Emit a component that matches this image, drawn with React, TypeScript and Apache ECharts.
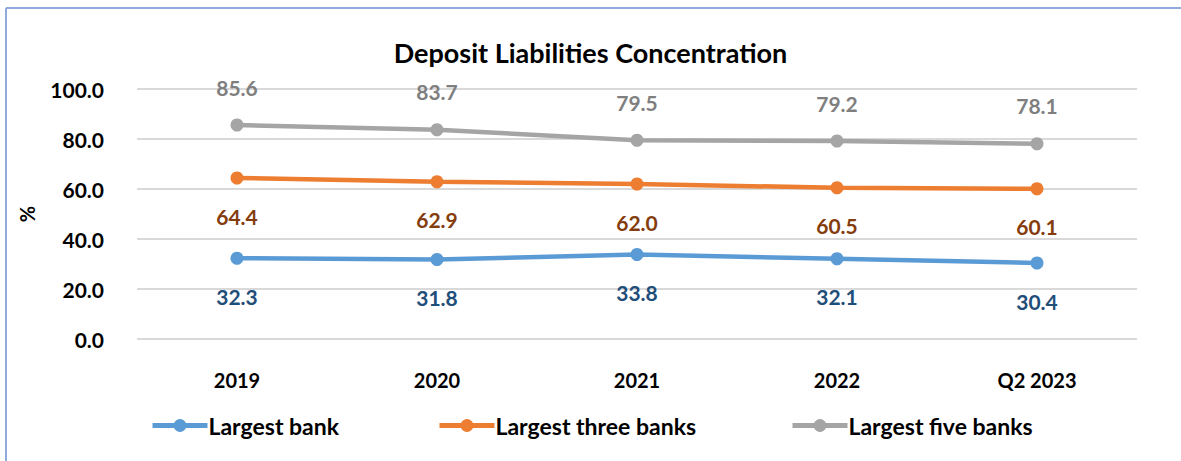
import React, { useEffect, useRef } from "react";
import * as echarts from "echarts";

const categories = ["2019", "2020", "2021", "2022", "Q2 2023"];
const largestBank = [32.3, 31.8, 33.8, 32.1, 30.4];
const largestThree = [64.4, 62.9, 62.0, 60.5, 60.1];
const largestFive = [85.6, 83.7, 79.5, 79.2, 78.1];
const seriesNames = ["Largest bank", "Largest three banks", "Largest five banks"];

const FONT = "Lato, 'Open Sans', sans-serif";

export default function App() {
  const ref = useRef<HTMLDivElement>(null);
  useEffect(() => {
    if (!ref.current) return;
    const chart = echarts.init(ref.current, null, { renderer: "svg" });
    const mkSeries = (name: string, data: number[], color: string, labelColor: string, pos: string) => ({
      name,
      type: "line",
      data,
      symbol: "circle",
      symbolSize: 13,
      lineStyle: { width: 4.5, color },
      itemStyle: { color },
      label: {
        show: true,
        position: pos,
        distance: 21,
        color: labelColor,
        fontSize: 21,
        fontWeight: "bold",
        fontFamily: FONT,
        formatter: (p: any) => p.value.toFixed(1),
      },
    });
    const legendCommon = {
      top: 414,
      padding: 0,
      itemWidth: 55,
      itemHeight: 16,
      itemGap: 4,
      lineStyle: { width: 5 },
      textStyle: { fontSize: 23, fontWeight: "bold", color: "#000", fontFamily: FONT, padding: [0, 0, 0, -4] },
    };
    chart.setOption({
      animation: false,
      backgroundColor: "#fff",
      textStyle: { fontFamily: FONT },
      title: {
        text: "Deposit Liabilities Concentration",
        left: "center",
        top: 34,
        textStyle: { fontSize: 27, fontWeight: "bold", color: "#000", fontFamily: FONT },
      },
      legend: [
        { ...legendCommon, left: 150, data: [seriesNames[0]] },
        { ...legendCommon, left: 437, data: [seriesNames[1]] },
        { ...legendCommon, left: 790, data: [seriesNames[2]] },
      ],
      grid: { left: 137, right: 44, top: 89, bottom: 122, containLabel: false },
      xAxis: {
        type: "category",
        data: categories,
        boundaryGap: true,
        axisLine: { show: false },
        axisTick: { show: false },
        axisLabel: { margin: 31, fontSize: 20, fontWeight: "bold", color: "#000", fontFamily: FONT },
      },
      yAxis: {
        type: "value",
        min: 0,
        max: 100,
        interval: 20,
        name: "%",
        nameLocation: "middle",
        nameGap: 100,
        nameRotate: 90,
        nameTextStyle: { fontSize: 20, fontWeight: "bold", color: "#000", fontFamily: FONT },
        axisLine: { show: false },
        axisTick: { show: false },
        splitLine: { lineStyle: { color: "#D9D9D9", width: 2 } },
        axisLabel: {
          margin: 33,
          fontSize: 21,
          fontWeight: "bold",
          color: "#000",
          fontFamily: FONT,
          formatter: (v: number) => v.toFixed(1),
        },
      },
      graphic: [
        { type: "line", shape: { x1: 6, y1: 8, x2: 1181, y2: 8 }, style: { stroke: "#8FAADC", lineWidth: 2 } },
        { type: "line", shape: { x1: 6, y1: 8, x2: 6, y2: 461 }, style: { stroke: "#8FAADC", lineWidth: 2 } },
      ],
      series: [
        mkSeries(seriesNames[0], largestBank, "#5B9BD5", "#1F4E79", "bottom"),
        mkSeries(seriesNames[1], largestThree, "#ED7D31", "#843C0C", "bottom"),
        mkSeries(seriesNames[2], largestFive, "#A5A5A5", "#7F7F7F", "top"),
      ],
    });
    return () => chart.dispose();
  }, []);
  return (
    <div
      ref={ref}
      style={{ position: "fixed", left: 0, top: 0, width: 1181, height: 461 }}
    />
  );
}
